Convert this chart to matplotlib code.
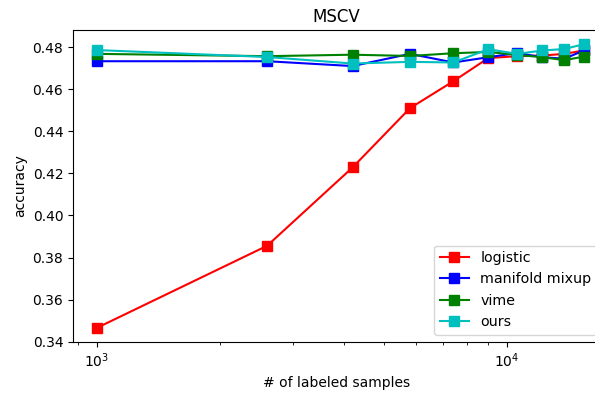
import matplotlib
matplotlib.use("Agg")
import matplotlib.pyplot as plt

samples = [1000, 2600, 4200, 5800, 7400, 9000, 10600, 12200, 13800, 15400]
logistic = [0.3466, 0.3856, 0.4228, 0.4510, 0.4638, 0.4748, 0.4757, 0.4760, 0.4768, 0.4784]
manifold_mixup = [0.4733, 0.4733, 0.4710, 0.4768, 0.4727, 0.4752, 0.4772, 0.4752, 0.4745, 0.4784]
vime = [0.4768, 0.4757, 0.4764, 0.4758, 0.4771, 0.4777, 0.4763, 0.4752, 0.4738, 0.4755]
ours = [0.4786, 0.4753, 0.4722, 0.4730, 0.4727, 0.4790, 0.4768, 0.4784, 0.4791, 0.4814]

fig = plt.figure(figsize=(5.95, 3.97), dpi=100)
left_px, right_px = 73, 600
ax = fig.add_axes([left_px/595, 1 - 342/397, (right_px - left_px)/595, (342 - 30)/397])

ms = 7.5
ax.plot(samples, logistic, color='r', marker='s', markersize=ms, label='logistic')
ax.plot(samples, manifold_mixup, color='b', marker='s', markersize=ms, label='manifold mixup')
ax.plot(samples, vime, color='g', marker='s', markersize=ms, label='vime')
ax.plot(samples, ours, color='c', marker='s', markersize=ms, label='ours')
ax.set_xscale('log')
ax.set_xlim(10 ** (3 - 24/410), 10 ** (3 + (right_px - 97)/410))
ax.set_yticks([0.34, 0.36, 0.38, 0.40, 0.42, 0.44, 0.46, 0.48])
ax.set_xlabel('# of labeled samples')
ax.set_ylabel('accuracy')
ax.set_title('MSCV')
ax.legend(loc='lower right', fontsize=10.3, borderaxespad=0,
          bbox_to_anchor=(597/595, 62.5/397), bbox_transform=fig.transFigure)
fig.savefig('out.png', dpi=100)
